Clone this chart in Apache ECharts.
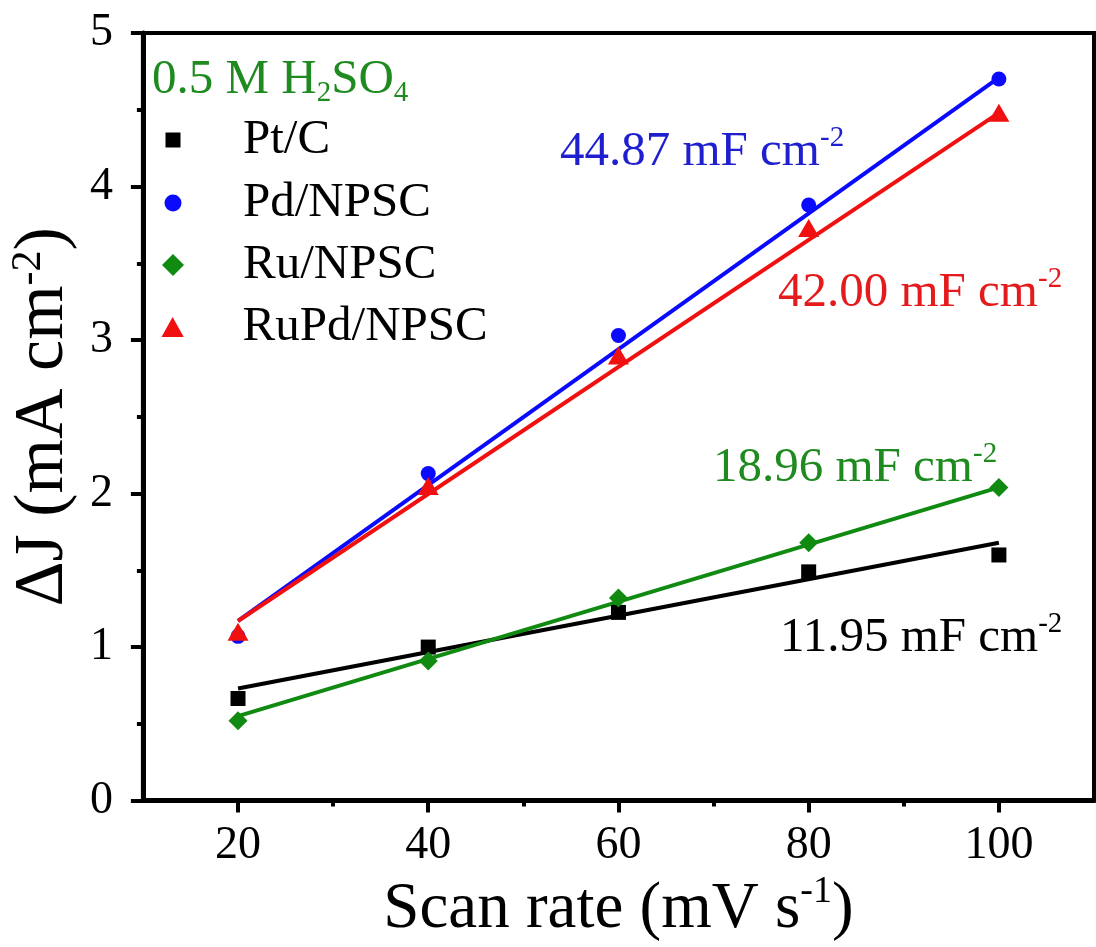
<!DOCTYPE html>
<html>
<head>
    <meta charset="utf-8">
    <title>Scan rate</title>
    <script src="https://cdn.jsdelivr.net/npm/echarts@6/dist/echarts.min.js"></script>
    <style>
        html, body { margin: 0; padding: 0; background: #ffffff; }
        #chart { width: 1096px; height: 947px; }
    </style>
</head>
<body>
<div id="chart"></div>
<script>
    // scan rates (mV/s)
    var scanRate = [20, 40, 60, 80, 100];
    // ΔJ (mA/cm2)
    var ptC = [0.665, 1.00, 1.226, 1.49, 1.60];
    var pdNPSC = [1.07, 2.13, 3.03, 3.88, 4.70];
    var ruNPSC = [0.52, 0.91, 1.32, 1.68, 2.04];
    var ruPdNPSC = [1.10, 2.05, 2.90, 3.73, 4.48];

    // linear fit end points
    var fitX = [20, 100];
    var fitPt = [0.73, 1.68];
    var fitPd = [1.17, 4.71];
    var fitRu = [0.55, 2.04];
    var fitRuPd = [1.17, 4.48];

    var xMajorTicks = [20, 40, 60, 80, 100];
    var xMinorTicks = [30, 50, 70, 90];

    var serif = "'Liberation Serif', 'Times New Roman', serif";

    function pairs(xs, ys) {
        var out = [];
        for (var i = 0; i < xs.length; i++) {
            out.push([xs[i], ys[i]]);
        }
        return out;
    }

    var chart = echarts.init(document.getElementById('chart'));

    var names = ['Pt/C', 'Pd/NPSC', 'Ru/NPSC', 'RuPd/NPSC'];
    var colors = ['#000000', '#0a0aff', '#118a11', '#f01010'];
    var values = [ptC, pdNPSC, ruNPSC, ruPdNPSC];
    var fits = [fitPt, fitPd, fitRu, fitRuPd];
    var symbols = ['rect', 'circle', 'diamond', 'triangle'];
    var symbolSizes = [15, 15, 19, [21, 18]];
    var icons = [
        'path://M0,0h10v10h-10z',
        'path://M5,0A5,5,0,1,1,5,10A5,5,0,1,1,5,0z',
        'path://M5,0L10,5L5,10L0,5z',
        'path://M5,0L10,9L0,9z'
    ];
    var iconW = [15, 17, 22, 23];
    var iconH = [15, 17, 22, 20];
    var rowTops = [112, 175, 237, 299];

    var series = [];
    for (var i = 0; i < names.length; i++) {
        series.push({
            name: names[i] + ' fit',
            type: 'line',
            data: pairs(fitX, fits[i]),
            showSymbol: false,
            lineStyle: { color: colors[i], width: 4 },
            z: 2,
            silent: true
        });
    }
    for (var j = 0; j < names.length; j++) {
        series.push({
            name: names[j],
            type: 'scatter',
            data: pairs(scanRate, values[j]),
            symbol: symbols[j],
            symbolSize: symbolSizes[j],
            itemStyle: { color: colors[j], opacity: 1 },
            z: 3
        });
    }

    var legends = [];
    for (var k = 0; k < names.length; k++) {
        var lx = 173 - iconW[k] / 2;
        legends.push({
            data: [{ name: names[k], icon: icons[k] }],
            left: lx,
            top: rowTops[k],
            padding: 0,
            itemWidth: iconW[k],
            itemHeight: iconH[k],
            selectedMode: false,
            itemStyle: { opacity: 1 },
            textStyle: {
                fontFamily: serif, fontSize: 49, color: '#000', lineHeight: 56,
                padding: [0, 0, 0, 243 - (lx + iconW[k] + 5)]
            }
        });
    }

    function note(text, left, top, color) {
        var st = { fontFamily: serif, fontWeight: 'normal', color: color };
        return {
            text: text,
            left: left,
            top: top,
            padding: 0,
            textStyle: {
                fontWeight: 'normal',
                rich: {
                    m: Object.assign({ fontSize: 49, lineHeight: 56 }, st),
                    s: Object.assign({ fontSize: 29, lineHeight: 40, verticalAlign: 'top' }, st),
                    b: Object.assign({ fontSize: 29, lineHeight: 36, verticalAlign: 'bottom' }, st)
                }
            }
        };
    }

    function axisName(size, supSize) {
        var st = { fontFamily: serif, fontWeight: 400, color: '#000' };
        return {
            fontFamily: serif,
            fontWeight: 400,
            fontSize: size,
            rich: {
                m: Object.assign({ fontSize: size, lineHeight: 72 }, st),
                s: Object.assign({ fontSize: supSize, lineHeight: 50, verticalAlign: 'top' }, st)
            }
        };
    }

    var option = {
        backgroundColor: '#ffffff',
        animation: false,
        title: [
            note('{m|0.5 M H}{b|2}{m|SO}{b|4}', 152, 52, '#1f8a1f'),
            note('{m|44.87 mF cm}{s|-2}', 560, 124, '#1f1fd0'),
            note('{m|42.00 mF cm}{s|-2}', 778, 265, '#e41a1c'),
            note('{m|18.96 mF cm}{s|-2}', 713, 440, '#1f8a1f'),
            note('{m|11.95 mF cm}{s|-2}', 780, 610, '#000000')
        ],
        legend: legends,
        grid: {
            left: 139,
            right: 2,
            top: 33,
            bottom: 139,
            show: true,
            borderColor: '#000',
            borderWidth: 4
        },
        xAxis: [
            {
                type: 'value',
                min: 10,
                max: 110,
                interval: 10,
                splitLine: { show: false },
                axisLine: { lineStyle: { color: '#000', width: 5 } },
                axisTick: {
                    customValues: xMajorTicks,
                    inside: false,
                    length: 12,
                    lineStyle: { width: 4, color: '#000' }
                },
                axisLabel: {
                    customValues: xMajorTicks,
                    fontFamily: serif,
                    fontSize: 46,
                    color: '#000',
                    margin: 22
                },
                name: '{m|Scan rate (mV s}{s|-1}{m|)}',
                nameLocation: 'middle',
                nameGap: 58,
                nameTextStyle: axisName(65, 38)
            },
            {
                type: 'value',
                min: 10,
                max: 110,
                interval: 10,
                position: 'bottom',
                splitLine: { show: false },
                axisLine: { show: false },
                axisLabel: { show: false },
                axisTick: {
                    customValues: xMinorTicks,
                    inside: false,
                    length: 6,
                    lineStyle: { width: 4, color: '#000' }
                }
            }
        ],
        yAxis: {
            type: 'value',
            min: 0,
            max: 5,
            interval: 1,
            splitLine: { show: false },
            axisLine: { lineStyle: { color: '#000', width: 5 } },
            axisTick: { inside: false, length: 12, lineStyle: { width: 4, color: '#000' } },
            minorTick: { show: true, splitNumber: 2, length: 6, lineStyle: { width: 4, color: '#000' } },
            axisLabel: { fontFamily: serif, fontSize: 46, color: '#000', margin: 30 },
            name: '{m|\u0394J (mA cm}{s|-2}{m|)}',
            nameLocation: 'middle',
            nameGap: 34,
            nameTextStyle: axisName(70, 42)
        },
        series: series
    };

    chart.setOption(option);
    window.onresize = function () {
        chart.resize();
    };
</script>
</body>
</html>
